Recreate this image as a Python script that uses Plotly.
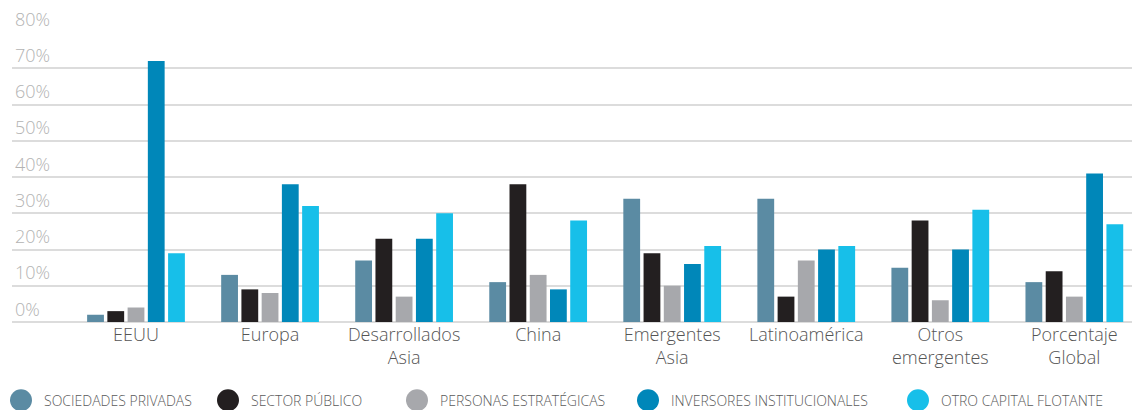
import plotly.graph_objects as go

categories = ["EEUU", "Europa", "Desarrollados<br>Asia", "China", "Emergentes<br>Asia",
              "Latinoamérica", "Otros<br>emergentes", "Porcentaje<br>Global"]

series_names = ["SOCIEDADES PRIVADAS", "SECTOR PÚBLICO", "PERSONAS ESTRATÉGICAS",
                "INVERSORES INSTITUCIONALES", "OTRO CAPITAL FLOTANTE"]

sociedades_privadas = [2, 13, 17, 11, 34, 34, 15, 11]
sector_publico = [3, 9, 23, 38, 19, 7, 28, 14]
personas_estrategicas = [4, 8, 7, 13, 10, 17, 6, 7]
inversores_institucionales = [72, 38, 23, 9, 16, 20, 20, 41]
otro_capital_flotante = [19, 32, 30, 28, 21, 21, 31, 27]

y_ticks = [0, 10, 20, 30, 40, 50, 60, 70, 80]
y_tick_labels = ["0%", "10%", "20%", "30%", "40%", "50%", "60%", "70%", "80%"]

series_values = [sociedades_privadas, sector_publico, personas_estrategicas,
                 inversores_institucionales, otro_capital_flotante]
colors = ["#5b8ba3", "#231f20", "#a7a8ac", "#0087b9", "#17bfe9"]

W, H = 1132, 410
ML, MR, MT, MB = 12, 0, 31.5, 88.3
plot_w = W - ML - MR
plot_h = H - MT - MB

fig = go.Figure()
for name, vals, col in zip(series_names, series_values, colors):
    fig.add_trace(go.Bar(x=categories, y=vals, name=name, marker_color=col,
                         marker_line_width=0, showlegend=False))

# custom legend (big circles)
legend_centers_px = [21, 228, 417, 648, 918]
legend_y_px = 400
shapes = []
annotations = []
for name, col, cx in zip(series_names, colors, legend_centers_px):
    xa = (cx - ML) / plot_w
    ya = (H - MB - legend_y_px) / plot_h
    shapes.append(dict(type="circle", xref="paper", yref="paper",
                       xsizemode="pixel", ysizemode="pixel",
                       xanchor=xa, yanchor=ya, x0=-11, x1=11, y0=-11, y1=11,
                       fillcolor=col, line_width=0))
    annotations.append(dict(text=name, xref="paper", yref="paper",
                            x=(cx + 21 - ML) / plot_w, y=ya, xanchor="left",
                            yanchor="middle", showarrow=False,
                            font=dict(family="Open Sans", size=14, color="#5a5a5a",
                                      weight=300)))

x_center0 = 136
pitch = 134.05
r0 = -(x_center0 - ML) / pitch
r1 = r0 + plot_w / pitch

fig.update_layout(
    width=W, height=H,
    margin=dict(l=ML, r=MR, t=MT, b=MB, pad=0),
    paper_bgcolor="white", plot_bgcolor="white",
    barmode="group", bargap=0.245, bargroupgap=0.17,
    shapes=shapes, annotations=annotations,
    font=dict(family="Open Sans"),
    xaxis=dict(type="category", range=[r0, r1], showgrid=False, showline=False,
               ticks="", tickfont=dict(family="Open Sans", size=18, color="#555555", weight=300)),
    yaxis=dict(range=[0, 80], tickvals=y_ticks, ticktext=y_tick_labels,
               ticklabelposition="inside top", ticklabeloverflow="allow",
               showgrid=True, gridcolor="#dcdcdc", gridwidth=1.5,
               zeroline=True, zerolinecolor="#dcdcdc", zerolinewidth=2,
               showline=False, ticks="",
               tickfont=dict(family="Open Sans", size=18, color="#b3b3b3", weight=300)),
)

fig.write_html("out.html")
